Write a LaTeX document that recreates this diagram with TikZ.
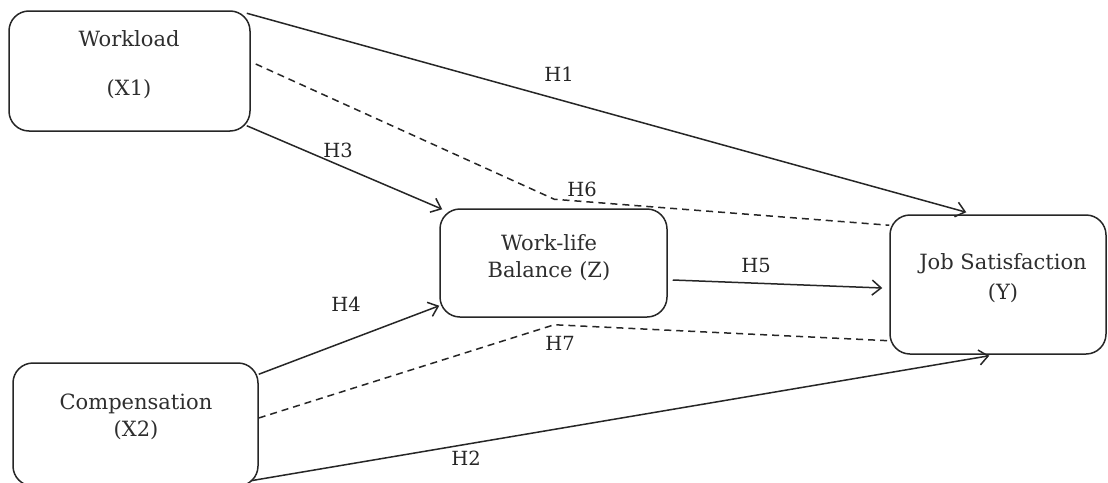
\documentclass[tikz,border=0pt]{standalone}
\usepackage{fontspec}
\setmainfont{DejaVu Serif}
\usetikzlibrary{arrows.meta,calc}
\begin{document}
\begin{tikzpicture}[x=1pt,y=-1pt,
  box/.style={draw=black!85,line width=1.5pt,rounded corners=20pt},
  lbl/.style={font=\fontsize{21}{25}\selectfont,text=black!82,inner sep=0pt},
  hlbl/.style={font=\fontsize{19.5}{23}\selectfont,text=black!85,inner sep=0pt},
  conn/.style={draw=black!85,line width=1.5pt},
  arr/.style={conn,-{Straight Barb[length=9pt,width=15pt,line width=1.5pt]}},
  dashln/.style={conn,dash pattern=on 7pt off 5pt}
]
\useasboundingbox (0,0) rectangle (1108,482);
\fill[white] (0,0) rectangle (1108,482);
% boxes
\node[box,minimum width=241pt,minimum height=120pt] (wl) at (129.5,71) {};
\node[box,minimum width=227pt,minimum height=108pt] (wlb) at (553.5,263) {};
\node[box,minimum width=216pt,minimum height=139pt] (js) at (998,284.5) {};
\node[box,minimum width=245pt,minimum height=123pt] (cp) at (135.5,424.5) {};
% box texts
\node[lbl] (t1) at (129,39) {Workload};
\node[lbl] (t2) at (129,89) {(X1)};
\node[lbl] (t3) at (549,243) {Work-life};
\node[lbl] (t4) at (549,271) {Balance (Z)};
\node[lbl] (t5) at (1003,264) {Job Satisfaction};
\node[lbl] (t6) at (1003,293) {(Y)};
\node[lbl] (t7) at (136,404) {Compensation};
\node[lbl] (t8) at (136,430) {(X2)};
% connector end points
\coordinate (a1s) at ($(wl.north east)+(-4,3)$);
\coordinate (a1e) at ($(js.north west)+(77,-2)$);
\coordinate (d6s) at ($(wl.east)+(5,-7)$);
\coordinate (d6m) at ($(wlb.north west)+(115,-9)$);
\coordinate (d6e) at ($(js.north west)+(0,11)$);
\coordinate (a3s) at ($(wl.south east)+(-4,-6)$);
\coordinate (a3e) at ($(wlb.north west)+(3,1)$);
\coordinate (a5s) at ($(wlb.east)+(5,17)$);
\coordinate (a5e) at ($(js.west)+(-7,3.5)$);
\coordinate (a4s) at ($(cp.north east)+(0,12)$);
\coordinate (a4e) at ($(wlb.south west)+(0,-12)$);
\coordinate (d7s) at ($(cp.east)+(0,-6.5)$);
\coordinate (d7m) at ($(wlb.south west)+(115,7)$);
\coordinate (d7e) at ($(js.south west)+(0,-14)$);
\coordinate (a2s) at ($(cp.south east)+(-8,-6)$);
\coordinate (a2e) at ($(js.south west)+(100,1)$);
% connectors
\draw[arr] (a1s) -- (a1e);
\node[hlbl] (h1) at (559,74) {H1};
\draw[dashln] (d6s) -- (d6m) -- (d6e);
\node[hlbl] (h6) at (582,189) {H6};
\draw[arr] (a3s) -- (a3e);
\node[hlbl] (h3) at (338,150) {H3};
\draw[arr] (a5s) -- (a5e);
\node[hlbl] (h5) at (756,266) {H5};
\draw[arr] (a4s) -- (a4e);
\node[hlbl] (h4) at (346,304) {H4};
\draw[dashln] (d7s) -- (d7m) -- (d7e);
\node[hlbl] (h7) at (560,343) {H7};
\draw[arr] (a2s) -- (a2e);
\node[hlbl] (h2) at (466,458) {H2};
\end{tikzpicture}
\end{document}
